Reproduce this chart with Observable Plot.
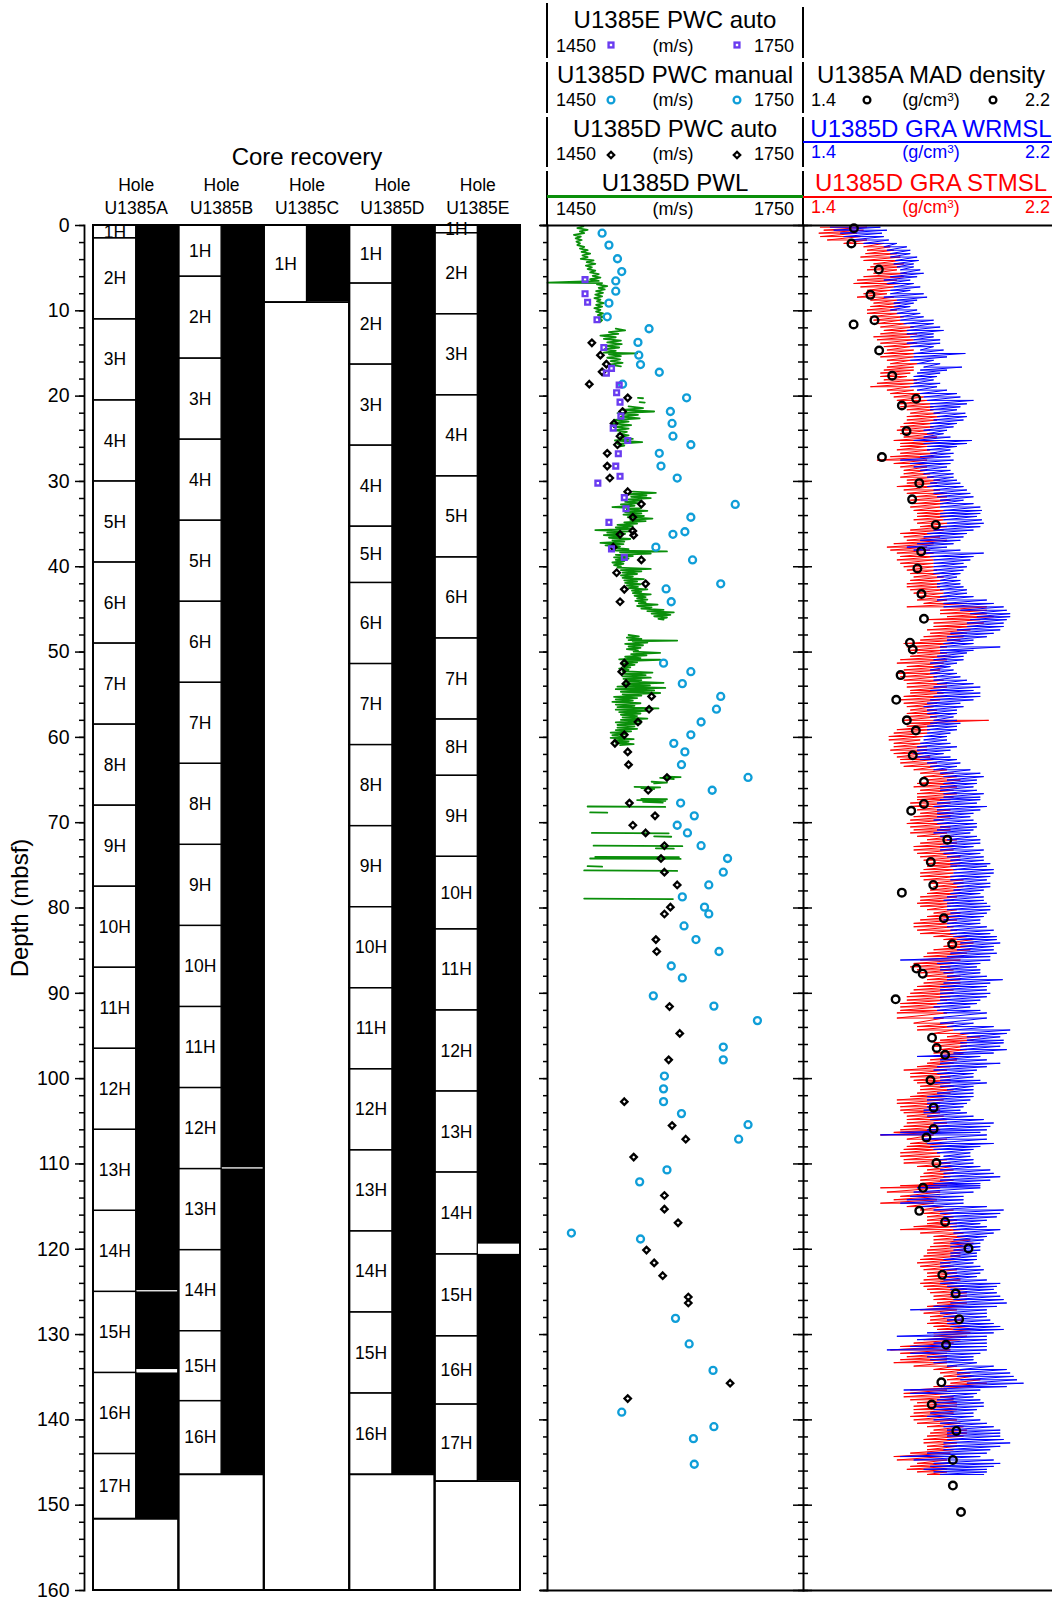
<!DOCTYPE html>
<html><head><meta charset="utf-8">
<script src="https://cdn.jsdelivr.net/npm/d3@7"></script>
<script src="https://cdn.jsdelivr.net/npm/@observablehq/plot@0.6"></script>
<style>
body{margin:0;background:#fff;}
#chart{position:relative;width:1052px;height:1599px;overflow:hidden;font-family:"Liberation Sans",Arial,Helvetica,sans-serif;}
#chart svg.plotsvg{position:absolute;left:0;top:0;}
.t{position:absolute;white-space:nowrap;}
.sup{position:relative;top:-0.45em;font-size:0.65em;}
</style></head>
<body><div id="chart"></div>
<script>
// ---------------- DATA ----------------
const holes = ["U1385A","U1385B","U1385C","U1385D","U1385E"];
// [core, top (m), bottom (m), recovered bottom (m, if < bottom)]
const coresA = [["1H",0,1.5],["2H",1.5,11.0],["3H",11.0,20.5],["4H",20.5,30.0],["5H",30.0,39.5],["6H",39.5,49.0],["7H",49.0,58.5],["8H",58.5,68.0],["9H",68.0,77.5],["10H",77.5,87.0],["11H",87.0,96.5],["12H",96.5,106.0],["13H",106.0,115.5],["14H",115.5,125.0,124.85],["15H",125.0,134.5,134.1],["16H",134.5,144.0],["17H",144.0,151.6]];
const coresB = [["1H",0,6.0],["2H",6.0,15.6],["3H",15.6,25.1],["4H",25.1,34.6],["5H",34.6,44.1],["6H",44.1,53.6],["7H",53.6,63.1],["8H",63.1,72.6],["9H",72.6,82.1],["10H",82.1,91.6],["11H",91.6,101.1],["12H",101.1,110.6,110.45],["13H",110.6,120.1],["14H",120.1,129.6],["15H",129.6,137.8],["16H",137.8,146.4]];
const coresC = [["1H",0,9.0]];
const coresD = [["1H",0,6.8],["2H",6.8,16.3],["3H",16.3,25.8],["4H",25.8,35.3],["5H",35.3,41.9],["6H",41.9,51.4],["7H",51.4,60.9],["8H",60.9,70.4],["9H",70.4,79.9],["10H",79.9,89.4],["11H",89.4,98.9],["12H",98.9,108.4],["13H",108.4,117.9],["14H",117.9,127.4],["15H",127.4,136.9],["16H",136.9,146.4]];
const coresE = [["1H",0,0.9],["2H",0.9,10.4],["3H",10.4,19.9],["4H",19.9,29.4],["5H",29.4,38.9],["6H",38.9,48.4],["7H",48.4,57.9],["8H",57.9,64.5],["9H",64.5,74.0],["10H",74.0,82.5],["11H",82.5,92.0],["12H",92.0,101.5],["13H",101.5,111.0],["14H",111.0,120.6,119.4],["15H",120.6,130.2],["16H",130.2,138.2],["17H",138.2,147.2]];

const depthTicks = [0,10,20,30,40,50,60,70,80,90,100,110,120,130,140,150,160];

// [depth m, velocity m/s]
const pwcManualD = [[0.9,1514],[2.3,1522],[3.9,1532],[5.4,1537],[6.5,1530],[7.7,1530],[9.1,1522],[10.7,1520],[12.1,1569],[13.7,1556],[15.2,1557],[16.3,1559],[17.2,1581],[18.6,1538],[20.2,1613],[21.8,1594],[23.2,1596],[24.7,1597],[25.7,1618],[26.7,1581],[28.2,1583],[29.6,1602],[32.7,1670],[34.2,1618],[35.9,1611],[36.2,1597],[37.7,1577],[39.2,1620],[42.0,1653],[42.6,1589],[44.1,1595],[51.3,1586],[52.3,1618],[53.7,1608],[55.2,1653],[56.7,1648],[58.2,1630],[59.7,1618],[60.7,1598],[61.7,1611],[63.2,1607],[64.7,1685],[66.2,1643],[67.7,1606],[69.2,1622],[70.3,1602],[71.2,1614],[72.7,1630],[74.2,1661],[75.8,1656],[77.3,1639],[78.7,1608],[79.9,1634],[80.7,1639],[82.1,1610],[83.7,1624],[85.1,1651],[86.8,1595],[88.2,1608],[90.3,1574],[91.5,1645],[93.2,1696],[96.3,1656],[97.8,1656],[99.7,1587],[101.2,1586],[102.7,1586],[104.1,1607],[105.4,1685],[107.1,1674],[110.7,1590],[112.1,1558],[118.1,1478],[118.8,1559],[128.1,1600],[131.1,1616],[134.2,1644],[139.1,1537],[140.8,1645],[142.2,1621],[145.2,1622]];
const pwcAutoD = [[13.75,1502],[15.2,1512],[16.25,1519],[17.15,1514],[18.6,1499],[20.2,1544],[21.8,1538],[23.2,1528],[24.7,1535],[25.7,1532],[26.7,1520],[28.2,1520],[29.6,1523],[31.2,1544],[32.65,1560],[34.2,1550],[35.8,1550],[36.3,1551],[36.2,1535],[37.7,1527],[39.2,1560],[40.7,1531],[42.0,1565],[42.65,1540],[44.1,1535],[51.3,1540],[52.3,1537],[53.7,1542],[55.2,1572],[56.7,1569],[58.2,1556],[59.7,1540],[60.7,1529],[61.7,1544],[63.2,1545],[64.7,1590],[66.2,1568],[67.7,1546],[69.2,1576],[70.3,1550],[71.2,1565],[72.7,1587],[74.2,1583],[75.8,1587],[77.3,1602],[79.9,1594],[80.7,1587],[83.7,1577],[85.1,1578],[91.55,1593],[94.7,1605],[97.8,1592],[102.7,1540],[105.5,1596],[107.1,1612],[109.2,1551],[113.7,1587],[115.3,1587],[116.9,1603],[120.1,1566],[121.6,1575],[123.1,1585],[125.6,1615],[126.3,1615],[135.7,1664],[137.5,1544]];
const pwcAutoE = [[6.35,1494],[8.0,1494],[9.0,1497],[11.05,1508],[14.3,1516],[16.75,1525],[17.3,1519],[18.7,1534],[19.6,1531],[20.7,1535],[22.35,1536],[23.75,1527],[25.2,1544],[26.75,1533],[28.2,1530],[29.4,1535],[30.2,1509],[31.9,1540],[33.2,1542],[34.8,1522],[37.9,1525],[38.9,1540]];
// PWL trace [depth, velocity]; null = gap
const pwlD = [
[0.1,1492],[0.3,1485],[0.5,1497],[0.7,1488],[0.9,1493],[1.1,1481],[1.3,1489],[1.5,1483],[1.7,1490],[1.9,1484],[2.1,1488],[2.3,1485],[2.5,1493],[2.7,1488],[2.9,1497],[3.1,1490],[3.3,1500],[3.5,1491],[3.7,1497],[3.9,1489],[4.1,1504],[4.3,1496],[4.5,1506],[4.7,1495],[4.9,1502],[5.1,1497],[5.3,1506],[5.5,1500],[5.7,1510],[5.9,1503],[6.1,1512],[6.3,1500],[6.5,1510],[6.7,1450],[6.75,1514],[6.9,1508],[7.1,1520],[7.3,1510],[7.5,1517],[7.7,1507],[7.9,1515],[8.1,1506],[8.3,1514],[8.5,1505],[8.7,1512],[8.9,1508],[9.1,1516],[9.3,1507],[9.5,1514],[9.7,1505],[9.9,1512],[10.1,1507],[10.3,1515],[10.5,1509],[10.7,1516],[10.9,1510],[11.1,1514],[11.3,1512],null,
[12.1,1530],[12.3,1541],[12.5,1522],[12.7,1533],[12.9,1512],[13.1,1530],[13.3,1516],[13.5,1536],[13.7,1520],[13.9,1537],[14.1,1518],[14.3,1534],[14.5,1517],[14.7,1530],[14.9,1516],[15.0,1555],[15.1,1522],[15.3,1536],[15.5,1520],[15.7,1535],[15.9,1524],[16.1,1538],[16.3,1522],[16.5,1536],null,
[20.2,1556],[20.25,1562],null,[20.7,1558],[20.75,1564],null,
[21.2,1545],[21.4,1562],[21.6,1538],[21.8,1575],[22.0,1532],[22.2,1556],[22.4,1536],[22.6,1558],[22.8,1528],[23.0,1545],[23.2,1526],[23.4,1548],[23.6,1528],[23.8,1545],[24.0,1530],[24.2,1543],[24.4,1533],[24.6,1545],[24.8,1535],[25.0,1550],[25.2,1529],[25.4,1561],[25.6,1532],[25.8,1540],[25.9,1535],null,
[31.2,1550],[31.35,1577],[31.5,1545],[31.65,1566],[31.8,1548],[31.95,1571],[32.1,1545],[32.25,1559],[32.4,1541],[32.55,1556],[32.7,1536],[32.85,1552],[33.0,1526],[33.15,1559],[33.3,1543],[33.45,1567],[33.6,1541],[33.75,1560],[33.9,1539],[34.05,1563],[34.2,1544],[34.35,1573],[34.5,1547],[34.65,1565],[34.8,1540],[34.95,1555],[35.1,1532],[35.25,1550],[35.4,1530],[35.55,1551],[35.7,1506],[35.85,1545],[36.0,1520],[36.15,1541],[36.3,1516],[36.45,1535],[36.6,1522],[36.75,1547],[36.9,1526],[37.05,1540],[37.2,1512],[37.35,1539],[37.5,1518],[37.65,1535],[37.8,1528],[37.95,1545],[38.1,1530],[38.2,1590],[38.3,1535],[38.45,1571],[38.6,1530],[38.75,1550],[38.9,1528],[39.05,1545],[39.2,1530],[39.35,1540],[39.5,1526],[39.65,1539],[39.8,1528],[39.95,1536],[40.1,1532],[40.25,1571],[40.4,1536],[40.55,1560],[40.7,1538],[40.85,1555],[41.0,1536],[41.15,1550],[41.3,1538],[41.45,1563],[41.6,1540],[41.75,1555],[41.9,1541],[42.05,1559],[42.2,1543],[42.35,1556],[42.5,1545],[42.65,1567],[42.8,1549],[42.95,1560],[43.1,1550],[43.25,1571],[43.4,1552],[43.55,1565],[43.7,1555],[43.85,1567],[44.0,1553],[44.15,1565],[44.3,1557],[44.45,1579],[44.6,1555],[44.75,1572],[44.9,1560],[45.05,1586],[45.2,1567],[45.35,1598],[45.5,1572],[45.65,1594],[45.8,1575],[45.95,1590],[46.1,1580],[46.2,1586],null,
[48.0,1545],[48.15,1557],[48.3,1543],[48.45,1560],[48.6,1545],[48.65,1602],[48.75,1550],[48.9,1567],[49.05,1541],[49.2,1562],[49.35,1545],[49.5,1559],[49.65,1543],[49.8,1556],[49.95,1551],[50.1,1582],[50.25,1548],[50.4,1566],[50.55,1541],[50.7,1559],[50.85,1534],[50.9,1582],[51.05,1540],[51.2,1555],[51.35,1536],[51.5,1552],[51.65,1538],[51.8,1547],[51.95,1534],[52.1,1545],[52.25,1538],[52.4,1573],[52.55,1540],[52.7,1565],[52.85,1538],[53.0,1571],[53.15,1539],[53.3,1560],[53.45,1541],[53.6,1586],[53.75,1538],[53.9,1570],[54.05,1532],[54.2,1588],[54.35,1530],[54.5,1575],[54.65,1536],[54.8,1582],[54.95,1538],[55.1,1560],[55.25,1528],[55.4,1555],[55.55,1530],[55.7,1550],[55.85,1526],[56.0,1559],[56.15,1530],[56.3,1552],[56.45,1532],[56.6,1580],[56.75,1530],[56.9,1566],[57.05,1534],[57.2,1559],[57.35,1536],[57.5,1555],[57.65,1538],[57.8,1567],[57.95,1536],[58.1,1560],[58.25,1530],[58.4,1559],[58.55,1532],[58.7,1552],[58.85,1532],[59.0,1555],[59.15,1530],[59.3,1548],[59.45,1524],[59.6,1543],[59.75,1526],[59.9,1540],[60.05,1524],[60.2,1551],[60.35,1528],[60.5,1545],[60.65,1530],[60.8,1551],[60.9,1535],null,
[64.6,1590],[64.65,1606],[64.75,1582],[64.9,1598],null,
[65.2,1572],[65.3,1590],[65.4,1575],null,
[65.8,1552],[65.85,1582],[65.95,1560],[66.05,1575],null,
[67.2,1560],[67.25,1590],[67.35,1555],[67.45,1588],[67.55,1562],[67.65,1585],null,
[68.1,1497],[68.15,1588],null,[68.8,1500],[68.82,1520],null,
[71.2,1502],[71.25,1592],null,[71.6,1575],[71.65,1595],null,
[72.7,1504],[72.75,1608],null,[73.0,1577],[73.05,1598],null,
[74.0,1506],[74.05,1604],null,[74.2,1500],[74.25,1606],null,
[75.1,1497],[75.15,1514],null,[75.6,1493],[75.65,1602],null,
[78.9,1493],[78.95,1597]
];

// [depth m, density g/cm3]
const madA = [[0.32,1.562],[2.11,1.554],[5.16,1.642],[8.13,1.615],[11.1,1.628],[11.6,1.561],[14.65,1.643],[17.6,1.685],[20.3,1.762],[21.1,1.716],[24.1,1.731],[27.15,1.652],[30.2,1.772],[32.1,1.749],[35.1,1.825],[38.2,1.778],[40.2,1.766],[43.2,1.779],[46.1,1.787],[48.9,1.742],[49.7,1.751],[52.7,1.712],[55.6,1.698],[58.0,1.732],[59.2,1.761],[62.1,1.751],[65.2,1.787],[67.8,1.787],[68.6,1.746],[72.0,1.862],[74.6,1.809],[77.3,1.817],[78.2,1.716],[81.2,1.851],[84.25,1.878],[87.1,1.763],[87.7,1.783],[90.7,1.696],[95.2,1.813],[96.4,1.828],[97.2,1.855],[100.2,1.808],[103.4,1.818],[105.9,1.818],[106.9,1.795],[109.9,1.827],[112.8,1.784],[115.5,1.772],[116.8,1.855],[119.9,1.930],[123.0,1.846],[125.2,1.889],[128.2,1.900],[131.2,1.858],[135.6,1.843],[138.2,1.812],[141.3,1.891],[144.7,1.880],[147.7,1.880],[150.8,1.906]];

// GRA traces: [depth, low, high] read at each depth (two interleaved reading sets)
const stmsl = [[0.2,1.454,1.604],[0.9,1.449,1.572],[1.7,1.476,1.604],[2.5,1.593,1.679],[3.3,1.599,1.700],[4.1,1.593,1.711],[4.85,1.615,1.711],[5.6,1.625,1.732],[6.4,1.572,1.700],[7.2,1.583,1.690],[8.0,1.593,1.668],[8.75,1.615,1.700],[9.5,1.615,1.711],[10.3,1.604,1.711],[11.1,1.625,1.711],[11.9,1.647,1.754],[12.7,1.647,1.765],[13.4,1.636,1.754],[14.2,1.658,1.743],[15.0,1.658,1.765],[15.8,1.668,1.743],[16.6,1.668,1.754],[17.3,1.647,1.743],[18.1,1.658,1.765],[18.9,1.615,1.743],[19.7,1.679,1.775],[20.5,1.700,1.797],[21.25,1.711,1.818],[22.0,1.743,1.839],[22.8,1.732,1.829],[23.6,1.711,1.818],[24.4,1.711,1.818],[25.2,1.690,1.839],[25.9,1.711,1.797],[26.7,1.711,1.829],[27.5,1.636,1.797],[28.3,1.711,1.797],[29.1,1.722,1.807],[29.85,1.732,1.839],[30.6,1.700,1.818],[31.4,1.732,1.861],[32.2,1.743,1.872],[33.0,1.743,1.839],[33.75,1.765,1.861],[34.5,1.754,1.850],[35.3,1.775,1.861],[36.1,1.711,1.818],[36.9,1.732,1.861],[37.7,1.668,1.797],[38.4,1.700,1.818],[39.2,1.700,1.818],[40.0,1.722,1.818],[40.8,1.743,1.839],[41.6,1.743,1.850],[42.35,1.732,1.839],[43.1,1.754,1.850],[43.9,1.765,1.861],[44.7,1.732,1.989],[45.5,1.839,1.989],[46.2,1.797,1.968],[47.0,1.818,1.946],[47.8,1.807,1.925],[48.6,1.775,1.904],[49.4,1.732,1.861],[50.1,1.765,1.861],[50.9,1.711,1.861],[51.7,1.732,1.850],[52.5,1.700,1.839],[53.3,1.722,1.850],[54.1,1.732,1.861],[54.8,1.743,1.850],[55.6,1.711,1.839],[56.4,1.732,1.818],[57.2,1.732,1.839],[58.0,1.722,1.995],[58.7,1.732,1.818],[59.5,1.690,1.797],[60.3,1.674,1.775],[61.1,1.690,1.797],[61.9,1.690,1.786],[62.6,1.711,1.818],[63.4,1.722,1.829],[64.2,1.775,1.882],[65.0,1.797,1.904],[65.8,1.754,1.893],[66.6,1.765,1.893],[67.3,1.765,1.872],[68.1,1.743,1.861],[68.9,1.775,1.882],[69.7,1.743,1.850],[70.5,1.743,1.872],[71.2,1.743,1.861],[72.0,1.797,1.893],[72.8,1.754,1.882],[73.6,1.765,1.893],[74.4,1.786,1.904],[75.1,1.797,1.893],[75.9,1.775,1.882],[76.7,1.786,1.914],[77.5,1.818,1.914],[78.3,1.797,1.904],[79.1,1.775,1.882],[79.8,1.775,1.872],[80.6,1.818,1.904],[81.4,1.775,1.893],[82.2,1.754,1.882],[83.0,1.775,1.893],[83.7,1.850,1.946],[84.5,1.850,1.936],[85.3,1.797,1.925],[86.1,1.775,1.904],[86.9,1.743,1.872],[87.6,1.775,1.882],[88.4,1.797,1.904],[89.2,1.765,1.893],[90.0,1.743,1.882],[90.8,1.732,1.861],[91.6,1.711,1.839],[92.3,1.700,1.861],[93.5,1.754,1.882],[94.3,1.765,1.882],[95.1,1.861,1.968],[95.8,1.818,1.925],[96.6,1.839,1.925],[97.4,1.818,1.904],[98.2,1.797,1.882],[99.0,1.722,1.861],[99.8,1.743,1.872],[100.5,1.765,1.872],[101.3,1.775,1.882],[102.1,1.743,1.861],[102.9,1.700,1.839],[103.7,1.711,1.839],[104.4,1.732,1.850],[105.2,1.732,1.861],[106.0,1.711,1.839],[106.6,1.647,1.818],[107.6,1.743,1.861],[108.3,1.722,1.839],[109.1,1.711,1.839],[109.9,1.722,1.872],[110.7,1.797,1.882],[111.5,1.775,1.872],[112.3,1.775,1.893],[112.8,1.647,1.839],[113.8,1.711,1.839],[114.6,1.647,1.818],[115.4,1.775,1.882],[116.2,1.797,1.882],[117.0,1.797,1.893],[117.7,1.711,1.904],[118.5,1.818,1.925],[119.3,1.818,1.946],[120.1,1.797,1.914],[120.8,1.786,1.904],[121.6,1.765,1.872],[122.4,1.786,1.893],[123.2,1.797,1.904],[124.0,1.775,1.893],[124.7,1.797,1.925],[125.5,1.818,1.925],[126.3,1.829,1.925],[127.1,1.775,1.893],[127.9,1.807,1.904],[128.7,1.797,1.914],[129.4,1.829,1.946],[130.2,1.818,1.925],[131.0,1.754,1.882],[131.8,1.679,1.872],[132.6,1.732,1.861],[133.3,1.690,1.861],[134.1,1.818,1.925],[134.9,1.850,1.946],[135.7,1.872,1.989],[136.5,1.743,1.861],[137.3,1.722,1.882],[138.0,1.765,1.893],[138.8,1.754,1.893],[139.6,1.743,1.872],[140.4,1.765,1.904],[141.2,1.818,1.925],[141.9,1.797,1.914],[142.7,1.786,1.893],[143.5,1.797,1.882],[144.3,1.690,1.850],[145.1,1.765,1.872],[145.8,1.732,1.861],[146.4,1.797,1.861]];
const stmslB = [[0.55,1.465,1.593],[1.3,1.454,1.583],[2.1,1.529,1.658],[2.9,1.604,1.690],[3.7,1.583,1.711],[4.5,1.625,1.722],[5.2,1.604,1.700],[6.0,1.593,1.722],[6.8,1.561,1.711],[7.6,1.604,1.679],[8.4,1.572,1.690],[9.1,1.625,1.711],[9.9,1.604,1.700],[10.7,1.615,1.722],[11.5,1.636,1.732],[12.3,1.658,1.743],[13.05,1.625,1.743],[13.8,1.647,1.765],[14.6,1.668,1.754],[15.4,1.647,1.754],[16.2,1.679,1.765],[16.95,1.658,1.754],[17.7,1.647,1.732],[18.5,1.636,1.765],[19.3,1.668,1.754],[20.1,1.690,1.786],[20.9,1.711,1.807],[21.6,1.732,1.818],[22.4,1.732,1.839],[23.2,1.722,1.818],[24.0,1.700,1.807],[24.8,1.722,1.829],[25.55,1.711,1.818],[26.3,1.700,1.807],[27.1,1.679,1.818],[27.9,1.690,1.797],[28.7,1.722,1.797],[29.5,1.711,1.818],[30.2,1.732,1.829],[31.0,1.722,1.839],[31.8,1.754,1.861],[32.6,1.754,1.850],[33.4,1.754,1.861],[34.1,1.765,1.872],[34.9,1.765,1.861],[35.7,1.743,1.850],[36.5,1.722,1.839],[37.3,1.690,1.818],[38.05,1.679,1.807],[38.8,1.711,1.829],[39.6,1.711,1.818],[40.4,1.732,1.829],[41.2,1.754,1.850],[42.0,1.732,1.839],[42.7,1.743,1.850],[43.5,1.765,1.861],[44.3,1.786,1.925],[45.1,1.839,1.989],[45.85,1.861,2.011],[46.6,1.818,1.979],[47.4,1.797,1.936],[48.2,1.786,1.914],[49.0,1.722,1.882],[49.8,1.743,1.850],[50.5,1.743,1.872],[51.3,1.700,1.850],[52.1,1.722,1.839],[52.9,1.711,1.829],[53.7,1.732,1.861],[54.5,1.743,1.850],[55.2,1.722,1.861],[56.0,1.722,1.829],[56.8,1.743,1.829],[57.6,1.722,1.829],[58.35,1.732,1.829],[59.1,1.700,1.807],[59.9,1.674,1.786],[60.7,1.690,1.786],[61.5,1.679,1.797],[62.3,1.700,1.807],[63.0,1.711,1.829],[63.8,1.754,1.861],[64.6,1.786,1.893],[65.4,1.765,1.893],[66.2,1.775,1.882],[67.0,1.765,1.882],[67.7,1.743,1.872],[68.5,1.765,1.872],[69.3,1.754,1.872],[70.1,1.732,1.861],[70.85,1.754,1.872],[71.6,1.765,1.882],[72.4,1.775,1.893],[73.2,1.754,1.882],[74.0,1.775,1.904],[74.8,1.797,1.904],[75.5,1.786,1.893],[76.3,1.775,1.893],[77.1,1.807,1.914],[77.9,1.807,1.904],[78.7,1.775,1.893],[79.45,1.765,1.882],[80.2,1.797,1.893],[81.0,1.797,1.904],[81.8,1.754,1.882],[82.6,1.765,1.893],[83.35,1.818,1.925],[84.1,1.861,1.946],[84.9,1.818,1.936],[85.7,1.786,1.914],[86.5,1.754,1.882],[87.25,1.765,1.882],[88.0,1.786,1.904],[88.8,1.786,1.904],[89.6,1.754,1.882],[90.4,1.732,1.872],[91.2,1.711,1.850],[92.0,1.711,1.850],[92.9,1.700,1.850],[93.9,1.765,1.882],[94.7,1.818,1.936],[95.5,1.839,1.946],[96.2,1.818,1.925],[97.0,1.818,1.914],[97.8,1.807,1.893],[98.6,1.765,1.872],[99.4,1.743,1.872],[100.2,1.754,1.872],[100.9,1.775,1.882],[101.7,1.765,1.872],[102.5,1.700,1.850],[103.3,1.711,1.839],[104.0,1.722,1.839],[104.8,1.732,1.861],[105.6,1.722,1.850],[106.3,1.690,1.839],[107.1,1.732,1.861],[107.95,1.732,1.850],[108.7,1.711,1.839],[109.5,1.722,1.861],[110.3,1.765,1.882],[111.1,1.786,1.882],[111.9,1.775,1.882],[112.55,1.711,1.861],[113.3,1.668,1.839],[114.2,1.690,1.829],[115.0,1.732,1.850],[115.8,1.786,1.882],[116.6,1.797,1.893],[117.35,1.754,1.893],[118.1,1.775,1.914],[118.9,1.818,1.936],[119.7,1.807,1.925],[120.45,1.797,1.904],[121.2,1.775,1.893],[122.0,1.775,1.882],[122.8,1.797,1.893],[123.6,1.786,1.904],[124.35,1.786,1.914],[125.1,1.807,1.925],[125.9,1.818,1.925],[126.7,1.797,1.914],[127.5,1.786,1.893],[128.3,1.807,1.914],[129.05,1.818,1.936],[129.8,1.818,1.936],[130.6,1.786,1.904],[131.4,1.711,1.872],[132.2,1.711,1.861],[132.95,1.711,1.861],[133.7,1.754,1.893],[134.5,1.839,1.936],[135.3,1.861,1.968],[136.1,1.818,1.946],[136.9,1.722,1.872],[137.65,1.743,1.882],[138.4,1.754,1.893],[139.2,1.754,1.882],[140.0,1.754,1.893],[140.8,1.797,1.914],[141.55,1.807,1.925],[142.3,1.786,1.904],[143.1,1.797,1.893],[143.9,1.743,1.872],[144.7,1.700,1.861],[145.45,1.743,1.872],[146.1,1.765,1.861]];
const wrmsl = [[0.2,1.486,1.647],[0.9,1.518,1.652],[1.7,1.551,1.674],[2.5,1.658,1.732],[3.3,1.679,1.743],[4.1,1.695,1.770],[4.85,1.700,1.754],[5.6,1.711,1.786],[6.4,1.658,1.743],[7.2,1.690,1.775],[8.0,1.679,1.786],[8.75,1.700,1.765],[9.5,1.690,1.743],[10.3,1.700,1.775],[11.1,1.711,1.818],[11.9,1.743,1.839],[12.7,1.732,1.818],[13.4,1.754,1.839],[14.2,1.743,1.818],[15.0,1.754,1.920],[15.8,1.743,1.818],[16.6,1.786,1.909],[17.3,1.765,1.839],[18.1,1.754,1.818],[18.9,1.743,1.829],[19.7,1.775,1.893],[20.5,1.797,1.946],[21.25,1.807,1.904],[22.0,1.818,1.920],[22.8,1.818,1.914],[23.6,1.807,1.882],[24.4,1.797,1.850],[25.2,1.754,1.941],[25.9,1.797,1.893],[26.7,1.807,1.882],[27.5,1.711,1.882],[28.3,1.754,1.861],[29.1,1.786,1.882],[29.85,1.818,1.893],[30.6,1.797,1.914],[31.4,1.818,1.936],[32.2,1.839,1.914],[33.0,1.839,1.968],[33.75,1.839,1.968],[34.5,1.850,1.973],[35.3,1.839,1.968],[36.1,1.797,1.925],[36.9,1.775,1.904],[37.7,1.732,1.861],[38.4,1.786,1.979],[39.2,1.818,1.936],[40.0,1.818,1.925],[40.8,1.818,1.904],[41.6,1.839,1.904],[42.35,1.829,1.914],[43.1,1.850,1.925],[43.9,1.829,1.989],[44.7,1.850,2.043],[45.5,1.936,2.064],[46.2,1.936,2.053],[47.0,1.925,2.043],[47.8,1.872,2.011],[48.6,1.861,1.946],[49.4,1.839,2.032],[50.1,1.839,1.925],[50.9,1.818,1.914],[51.7,1.818,1.872],[52.5,1.807,1.893],[53.3,1.818,1.925],[54.1,1.818,1.968],[54.8,1.829,1.968],[55.6,1.807,1.946],[56.4,1.786,1.914],[57.2,1.797,1.893],[58.0,1.818,1.893],[58.7,1.797,1.893],[59.5,1.797,1.872],[60.3,1.786,1.861],[61.1,1.765,1.893],[61.9,1.754,1.850],[62.6,1.775,1.893],[63.4,1.807,1.893],[64.2,1.839,1.968],[65.0,1.861,1.957],[65.8,1.839,1.946],[66.6,1.850,1.979],[67.3,1.839,1.968],[68.1,1.818,1.989],[68.9,1.829,1.946],[69.7,1.818,1.946],[70.5,1.839,1.957],[71.2,1.818,1.936],[72.0,1.861,1.968],[72.8,1.839,1.946],[73.6,1.850,1.968],[74.4,1.872,1.979],[75.1,1.872,1.989],[75.9,1.882,2.011],[76.7,1.872,1.989],[77.5,1.893,2.000],[78.3,1.872,1.968],[79.1,1.850,1.979],[79.8,1.861,2.000],[80.6,1.872,1.989],[81.4,1.850,1.968],[82.2,1.861,1.989],[83.0,1.872,2.000],[83.7,1.893,2.021],[84.5,1.904,2.011],[85.3,1.872,2.021],[86.1,1.711,2.000],[86.9,1.839,1.957],[87.6,1.850,1.968],[88.4,1.861,2.040],[89.2,1.839,1.989],[90.0,1.839,2.000],[90.8,1.839,1.968],[91.6,1.818,1.936],[92.3,1.850,1.989],[93.5,1.839,1.946],[94.3,1.882,2.064],[95.1,1.925,2.032],[95.8,1.904,2.043],[96.6,1.904,2.053],[97.4,1.765,1.968],[98.2,1.839,2.032],[99.0,1.818,1.957],[99.8,1.839,1.946],[100.5,1.818,1.989],[101.3,1.861,1.946],[102.1,1.797,1.946],[102.9,1.797,1.925],[103.7,1.786,1.904],[104.4,1.797,1.946],[105.2,1.818,2.011],[106.0,1.797,1.989],[106.6,1.647,1.989],[107.6,1.797,2.011],[108.3,1.818,1.946],[109.1,1.850,1.936],[109.9,1.839,1.946],[110.7,1.839,2.000],[111.5,1.850,2.032],[112.3,1.818,1.968],[112.8,1.765,1.968],[113.8,1.743,1.914],[114.6,1.711,1.914],[115.4,1.818,2.043],[116.2,1.850,2.021],[117.0,1.861,1.968],[117.7,1.882,2.032],[118.5,1.893,1.989],[119.3,1.872,1.968],[120.1,1.882,1.968],[120.8,1.872,1.957],[121.6,1.839,1.946],[122.4,1.850,1.979],[123.2,1.861,1.957],[124.0,1.839,2.032],[124.7,1.872,2.011],[125.5,1.872,2.032],[126.3,1.872,2.053],[127.1,1.743,1.989],[127.9,1.850,1.989],[128.7,1.861,2.011],[129.4,1.882,2.043],[130.2,1.700,1.989],[131.0,1.818,1.989],[131.8,1.668,1.989],[132.6,1.797,1.946],[133.3,1.818,1.957],[134.1,1.904,2.053],[134.9,1.893,2.075],[135.7,1.925,2.107],[136.5,1.722,1.968],[137.3,1.839,1.946],[138.0,1.818,1.979],[138.8,1.818,1.957],[139.6,1.797,1.946],[140.4,1.839,1.989],[141.2,1.861,2.032],[141.9,1.861,2.032],[142.7,1.850,2.064],[143.5,1.850,2.000],[144.3,1.711,1.968],[145.1,1.818,2.032],[145.8,1.786,1.989],[146.4,1.839,1.979]];
const wrmslB = [[0.55,1.497,1.668],[1.3,1.529,1.658],[2.1,1.593,1.700],[2.9,1.668,1.743],[3.7,1.679,1.765],[4.5,1.690,1.754],[5.2,1.711,1.775],[6.0,1.679,1.765],[6.8,1.668,1.754],[7.6,1.679,1.743],[8.4,1.658,1.797],[9.1,1.690,1.754],[9.9,1.679,1.765],[10.7,1.711,1.786],[11.5,1.722,1.818],[12.3,1.732,1.850],[13.05,1.743,1.818],[13.8,1.732,1.839],[14.6,1.775,1.850],[15.4,1.754,1.861],[16.2,1.765,1.839],[16.95,1.775,1.861],[17.7,1.754,1.829],[18.5,1.754,1.839],[19.3,1.765,1.861],[20.1,1.786,1.904],[20.9,1.807,1.925],[21.6,1.807,1.893],[22.4,1.829,1.925],[23.2,1.807,1.893],[24.0,1.786,1.861],[24.8,1.786,1.872],[25.55,1.786,1.925],[26.3,1.797,1.872],[27.1,1.775,1.872],[27.9,1.743,1.872],[28.7,1.775,1.872],[29.5,1.797,1.882],[30.2,1.807,1.904],[31.0,1.818,1.925],[31.8,1.829,1.946],[32.6,1.839,1.946],[33.4,1.850,1.973],[34.1,1.839,1.957],[34.9,1.861,1.979],[35.7,1.818,1.946],[36.5,1.786,1.914],[37.3,1.765,1.882],[38.05,1.754,1.904],[38.8,1.807,1.946],[39.6,1.818,1.914],[40.4,1.818,1.914],[41.2,1.829,1.893],[42.0,1.829,1.904],[42.7,1.839,1.925],[43.5,1.839,1.946],[44.3,1.850,2.011],[45.1,1.904,2.053],[45.85,1.957,2.064],[46.6,1.925,2.043],[47.4,1.893,2.032],[48.2,1.861,1.989],[49.0,1.850,1.946],[49.8,1.839,1.946],[50.5,1.829,1.914],[51.3,1.807,1.893],[52.1,1.807,1.882],[52.9,1.818,1.904],[53.7,1.829,1.946],[54.5,1.807,1.946],[55.2,1.818,1.968],[56.0,1.797,1.904],[56.8,1.797,1.893],[57.6,1.807,1.882],[58.35,1.807,1.904],[59.1,1.797,1.893],[59.9,1.786,1.861],[60.7,1.775,1.872],[61.5,1.765,1.872],[62.3,1.765,1.872],[63.0,1.797,1.904],[63.8,1.818,1.936],[64.6,1.850,1.979],[65.4,1.850,1.957],[66.2,1.839,1.957],[67.0,1.850,1.968],[67.7,1.829,1.957],[68.5,1.829,1.968],[69.3,1.829,1.936],[70.1,1.829,1.957],[70.85,1.829,1.946],[71.6,1.839,1.957],[72.4,1.850,1.968],[73.2,1.839,1.979],[74.0,1.861,1.979],[74.8,1.872,2.000],[75.5,1.882,2.011],[76.3,1.872,2.000],[77.1,1.882,2.000],[77.9,1.882,1.979],[78.7,1.861,1.979],[79.45,1.861,1.989],[80.2,1.861,2.000],[81.0,1.861,1.979],[81.8,1.861,1.968],[82.6,1.872,2.011],[83.35,1.882,2.021],[84.1,1.904,2.032],[84.9,1.893,2.011],[85.7,1.861,2.000],[86.5,1.829,1.968],[87.25,1.839,1.968],[88.0,1.861,1.989],[88.8,1.850,2.000],[89.6,1.839,1.989],[90.4,1.839,1.989],[91.2,1.829,1.957],[92.0,1.829,1.968],[92.9,1.818,1.989],[93.9,1.861,2.011],[94.7,1.904,2.053],[95.5,1.925,2.043],[96.2,1.904,2.032],[97.0,1.882,2.011],[97.8,1.839,1.989],[98.6,1.829,1.989],[99.4,1.829,1.946],[100.2,1.839,1.968],[100.9,1.839,1.946],[101.7,1.829,1.946],[102.5,1.797,1.936],[103.3,1.797,1.914],[104.0,1.786,1.925],[104.8,1.807,1.979],[105.6,1.807,2.000],[106.3,1.711,1.968],[107.1,1.786,1.989],[107.95,1.807,1.968],[108.7,1.829,1.936],[109.5,1.839,1.946],[110.3,1.839,1.968],[111.1,1.850,2.011],[111.9,1.839,2.000],[112.55,1.797,1.968],[113.3,1.754,1.946],[114.2,1.732,1.914],[115.0,1.775,1.989],[115.8,1.839,2.032],[116.6,1.850,1.989],[117.35,1.872,1.989],[118.1,1.882,2.011],[118.9,1.882,1.979],[119.7,1.872,1.968],[120.45,1.872,1.957],[121.2,1.850,1.957],[122.0,1.839,1.968],[122.8,1.861,1.968],[123.6,1.850,1.989],[124.35,1.861,2.021],[125.1,1.872,2.021],[125.9,1.882,2.043],[126.7,1.818,2.021],[127.5,1.839,1.989],[128.3,1.861,2.000],[129.05,1.872,2.032],[129.8,1.797,2.011],[130.6,1.765,1.989],[131.4,1.743,1.989],[132.2,1.743,1.968],[132.95,1.807,1.946],[133.7,1.861,2.011],[134.5,1.893,2.064],[135.3,1.904,2.086],[136.1,1.850,2.053],[136.9,1.743,1.957],[137.65,1.829,1.968],[138.4,1.818,1.979],[139.2,1.807,1.946],[140.0,1.818,1.968],[140.8,1.850,2.011],[141.55,1.861,2.032],[142.3,1.861,2.043],[143.1,1.850,2.032],[143.9,1.797,1.989],[144.7,1.754,2.011],[145.45,1.807,2.011],[146.1,1.818,1.989]];

// ---------------- STYLE ----------------
const W = 1052, H = 1599;
const FONT = '"Liberation Sans", Arial, Helvetica, sans-serif';
const C_GREEN = "#0a8f0a", C_CYAN = "#0f9ed8", C_PURPLE = "#6a3cf0", C_RED = "#ff0000", C_BLUE = "#0000ff";
const svgStyle = `background:transparent;font-family:${FONT};overflow:visible;`;
const minorTicks = d3.range(0, 161, 2);
const chart = document.getElementById("chart");

// ---------------- PANEL 1: core recovery ----------------
const allCores = [coresA, coresB, coresC, coresD, coresE];
const coreRows = [];
allCores.forEach((list, h) =>
  list.forEach(([name, top, bottom, rec]) => coreRows.push({h, name, top, bottom, rec: rec ?? bottom})));
const recovered = [];
allCores.forEach((list, h) => {
  let cur = null;
  list.forEach(([name, top, bottom, rec]) => {
    const r = rec ?? bottom;
    if (cur && top <= cur.bottom + 1e-6) cur.bottom = r;
    else { if (cur) recovered.push(cur); cur = {h, top, bottom: r}; }
  });
  if (cur) recovered.push(cur);
});
const holeEnds = allCores.map((list, h) => ({h, y: list[list.length - 1][2]}));
const holeIdx = holes.map((name, h) => ({h, name}));

const p1 = Plot.plot({
  width: W, height: H, marginLeft: 84, marginRight: W - 520, marginTop: 225, marginBottom: 9,
  x: {domain: [0, 5], range: [93, 520], axis: null},
  y: {domain: [0, 160], reverse: true, axis: null},
  style: svgStyle,
  marks: [
    Plot.rect(coreRows, {x1: d => d.h, x2: d => d.h + 0.5, y1: "top", y2: "bottom", fill: "white"}),
    Plot.rect(recovered, {x1: d => d.h + 0.5, x2: d => d.h + 1, y1: "top", y2: "bottom", fill: "black"}),
    Plot.text(coreRows, {x: d => d.h + 0.25, y: d => (d.top + d.bottom) / 2, text: "name", fontSize: 17.5, fill: "black"}),
    Plot.rect(coreRows, {x1: d => d.h, x2: d => d.h + 0.5, y1: "top", y2: "bottom", fill: "none", stroke: "black", strokeWidth: 1.3}),
    Plot.ruleY(holeEnds, {y: "y", x1: d => d.h, x2: d => d.h + 1, strokeWidth: 1.6}),
    Plot.rect(holeIdx, {x1: d => d.h, x2: d => d.h + 1, y1: () => 0, y2: () => 160, fill: "none", stroke: "black", strokeWidth: 2}),
    Plot.text(holeIdx, {x: d => d.h + 0.5, text: () => "Hole", frameAnchor: "top", lineAnchor: "middle", dy: -40, fontSize: 17.5}),
    Plot.text(holeIdx, {x: d => d.h + 0.5, text: "name", frameAnchor: "top", lineAnchor: "middle", dy: -17, fontSize: 17.5}),
    Plot.text(["Core recovery"], {x: () => 2.5, text: d => d, frameAnchor: "top", lineAnchor: "middle", dy: -68, fontSize: 24}),
    Plot.text(["Depth (mbsf)"], {text: d => d, frameAnchor: "left", textAnchor: "middle", lineAnchor: "middle", dx: -64, rotate: -90, fontSize: 24}),
    Plot.axisY({ticks: depthTicks, tickSize: 9, tickPadding: 6, fontSize: 19.5, strokeWidth: 1.5, label: null}),
    Plot.axisY({ticks: minorTicks, tickSize: 5, tickFormat: () => "", strokeWidth: 1.5, label: null}),
    Plot.frame({anchor: "left", strokeWidth: 1.8})
  ]
});
p1.classList.add("plotsvg");
chart.appendChild(p1);

// ---------------- PANEL 2: velocity ----------------
const pwlPts = pwlD.map(p => p ? {d: p[0], v: p[1]} : {d: NaN, v: NaN});
const FW2 = 803 - 547;
const p2 = Plot.plot({
  width: W, height: H, marginLeft: 547, marginRight: W - 803, marginTop: 225, marginBottom: 9,
  x: {domain: [1450, 1750], axis: null},
  y: {domain: [0, 160], reverse: true, axis: null},
  style: svgStyle,
  marks: [
    Plot.line(pwlPts, {x: "v", y: "d", stroke: C_GREEN, strokeWidth: 1.8}),
    Plot.dot(pwcManualD, {x: d => d[1], y: d => d[0], r: 3.5, stroke: C_CYAN, strokeWidth: 2.3, fill: "none"}),
    Plot.dot(pwcAutoD, {x: d => d[1], y: d => d[0], symbol: "diamond2", r: 2.9, stroke: "black", strokeWidth: 2.3}),
    Plot.dot(pwcAutoE, {x: d => d[1], y: d => d[0], symbol: "square2", r: 3.0, stroke: C_PURPLE, strokeWidth: 2.4}),
    Plot.tickY(depthTicks, {y: d => d, insetLeft: -8, insetRight: FW2, strokeWidth: 1.5}),
    Plot.tickY(minorTicks, {y: d => d, insetLeft: -4, insetRight: FW2, strokeWidth: 1.5}),
    Plot.tickY(depthTicks, {y: d => d, insetLeft: FW2 - 10, insetRight: 0, strokeWidth: 1.5}),
    Plot.tickY(minorTicks, {y: d => d, insetLeft: FW2 - 5, insetRight: 0, strokeWidth: 1.5}),
    Plot.frame({anchor: "left", strokeWidth: 2}),
    Plot.ruleY([0, 160], {y: d => d, insetLeft: -7, strokeWidth: 2})
  ]
});
p2.classList.add("plotsvg");
chart.appendChild(p2);

// ---------------- PANEL 3: density ----------------
// each reading drawn as a stroke from low to high, then on to the next reading
function trace(a, b) {
  const rows = a.concat(b).sort((p, q) => p[0] - q[0]);
  const pts = [];
  rows.forEach(([d, lo, hi]) => { pts.push({d, x: lo}); pts.push({d, x: hi}); });
  return pts;
}
const FW3 = W - 803;
const p3 = Plot.plot({
  width: W, height: H, marginLeft: 803, marginRight: 0, marginTop: 225, marginBottom: 9,
  x: {domain: [1.4, 2.2], axis: null},
  y: {domain: [0, 160], reverse: true, axis: null},
  style: svgStyle,
  marks: [
    Plot.line(trace(stmsl, stmslB), {x: "x", y: "d", stroke: C_RED, strokeWidth: 1}),
    Plot.line(trace(wrmsl, wrmslB), {x: "x", y: "d", stroke: C_BLUE, strokeWidth: 1}),
    Plot.dot(madA, {x: d => d[1], y: d => d[0], r: 3.8, stroke: "black", strokeWidth: 2.4, fill: "none"}),
    Plot.tickY(depthTicks, {y: d => d, insetLeft: 0, insetRight: FW3 - 9, strokeWidth: 1.5}),
    Plot.tickY(minorTicks, {y: d => d, insetLeft: 0, insetRight: FW3 - 5, strokeWidth: 1.5}),
    Plot.frame({anchor: "left", strokeWidth: 2}),
    Plot.ruleY([0, 160], {y: d => d, strokeWidth: 2})
  ]
});
p3.classList.add("plotsvg");
chart.appendChild(p3);

// ---------------- HEADERS (HTML) ----------------
function txt(html, left, width, baseline, size, align = "center", color = "#000") {
  const el = document.createElement("div");
  el.className = "t";
  el.style.cssText = `left:${left}px;width:${width}px;top:${baseline - 0.8465 * size}px;font-size:${size}px;line-height:${size}px;text-align:${align};color:${color};`;
  el.innerHTML = html;
  chart.appendChild(el);
}
function vline(x, y1, y2, w = 2, color = "#000") {
  const el = document.createElement("div");
  el.style.cssText = `position:absolute;left:${x - w / 2}px;top:${y1}px;width:${w}px;height:${y2 - y1}px;background:${color};`;
  chart.appendChild(el);
}
function hline(x1, x2, y, h, color) {
  const el = document.createElement("div");
  el.style.cssText = `position:absolute;left:${x1}px;top:${y - h / 2}px;width:${x2 - x1}px;height:${h}px;background:${color};`;
  chart.appendChild(el);
}
function sym(kind, cx, cy, color) {
  const el = document.createElementNS("http://www.w3.org/2000/svg", "svg");
  el.setAttribute("width", 14); el.setAttribute("height", 14);
  el.style.cssText = `position:absolute;left:${cx - 7}px;top:${cy - 7}px;overflow:visible;`;
  let s;
  if (kind === "square") s = `<rect x="4.6" y="4.6" width="4.8" height="4.8" fill="none" stroke="${color}" stroke-width="2.4"/>`;
  else if (kind === "circle") s = `<circle cx="7" cy="7" r="3.4" fill="none" stroke="${color}" stroke-width="2.3"/>`;
  else s = `<path d="M7,3.8L10.2,7L7,10.2L3.8,7Z" fill="none" stroke="${color}" stroke-width="2.3"/>`;
  el.innerHTML = s;
  chart.appendChild(el);
}
const G3 = '(g/cm<span class="sup">3</span>)';
[[3, 58], [62, 113], [117, 167], [171, 225]].forEach(([a, b]) => vline(547, a, b));
[[7, 58], [62, 113], [117, 167], [171, 225]].forEach(([a, b]) => vline(803, a, b));
const velBlocks = [
  {title: "U1385E PWC auto", tb: 28, rb: 52, sy: 45, kind: "square", color: C_PURPLE},
  {title: "U1385D PWC manual", tb: 83, rb: 106, sy: 100, kind: "circle", color: C_CYAN},
  {title: "U1385D PWC auto", tb: 137, rb: 160, sy: 155, kind: "diamond", color: "#000"},
  {title: "U1385D PWL", tb: 191, rb: 215, sy: null}
];
velBlocks.forEach(b => {
  txt(b.title, 547, 256, b.tb, 24);
  txt("1450", 556, 60, b.rb, 18, "left");
  txt("(m/s)", 623, 100, b.rb, 18);
  txt("1750", 734, 60, b.rb, 18, "right");
  if (b.sy !== null) { sym(b.kind, 611, b.sy, b.color); sym(b.kind, 737, b.sy, b.color); }
});
hline(547, 803, 196.5, 2.5, C_GREEN);
txt("U1385A MAD density", 803, 256, 83, 24);
txt("1.4", 811, 40, 106, 18, "left");
txt(G3, 881, 100, 106, 18);
txt("2.2", 1010, 40, 106, 18, "right");
sym("circle", 867, 100, "#000"); sym("circle", 993, 100, "#000");
txt("U1385D GRA WRMSL", 803, 256, 137, 24, "center", C_BLUE);
hline(803, 1052, 141.7, 2, C_BLUE);
txt("1.4", 811, 40, 158, 18, "left", C_BLUE);
txt(G3, 881, 100, 158, 18, "center", C_BLUE);
txt("2.2", 1010, 40, 158, 18, "right", C_BLUE);
txt("U1385D GRA STMSL", 803, 256, 191, 24, "center", C_RED);
hline(803, 1052, 196.5, 2, C_RED);
txt("1.4", 811, 40, 213, 18, "left", C_RED);
txt(G3, 881, 100, 213, 18, "center", C_RED);
txt("2.2", 1010, 40, 213, 18, "right", C_RED);
</script>
</body></html>
